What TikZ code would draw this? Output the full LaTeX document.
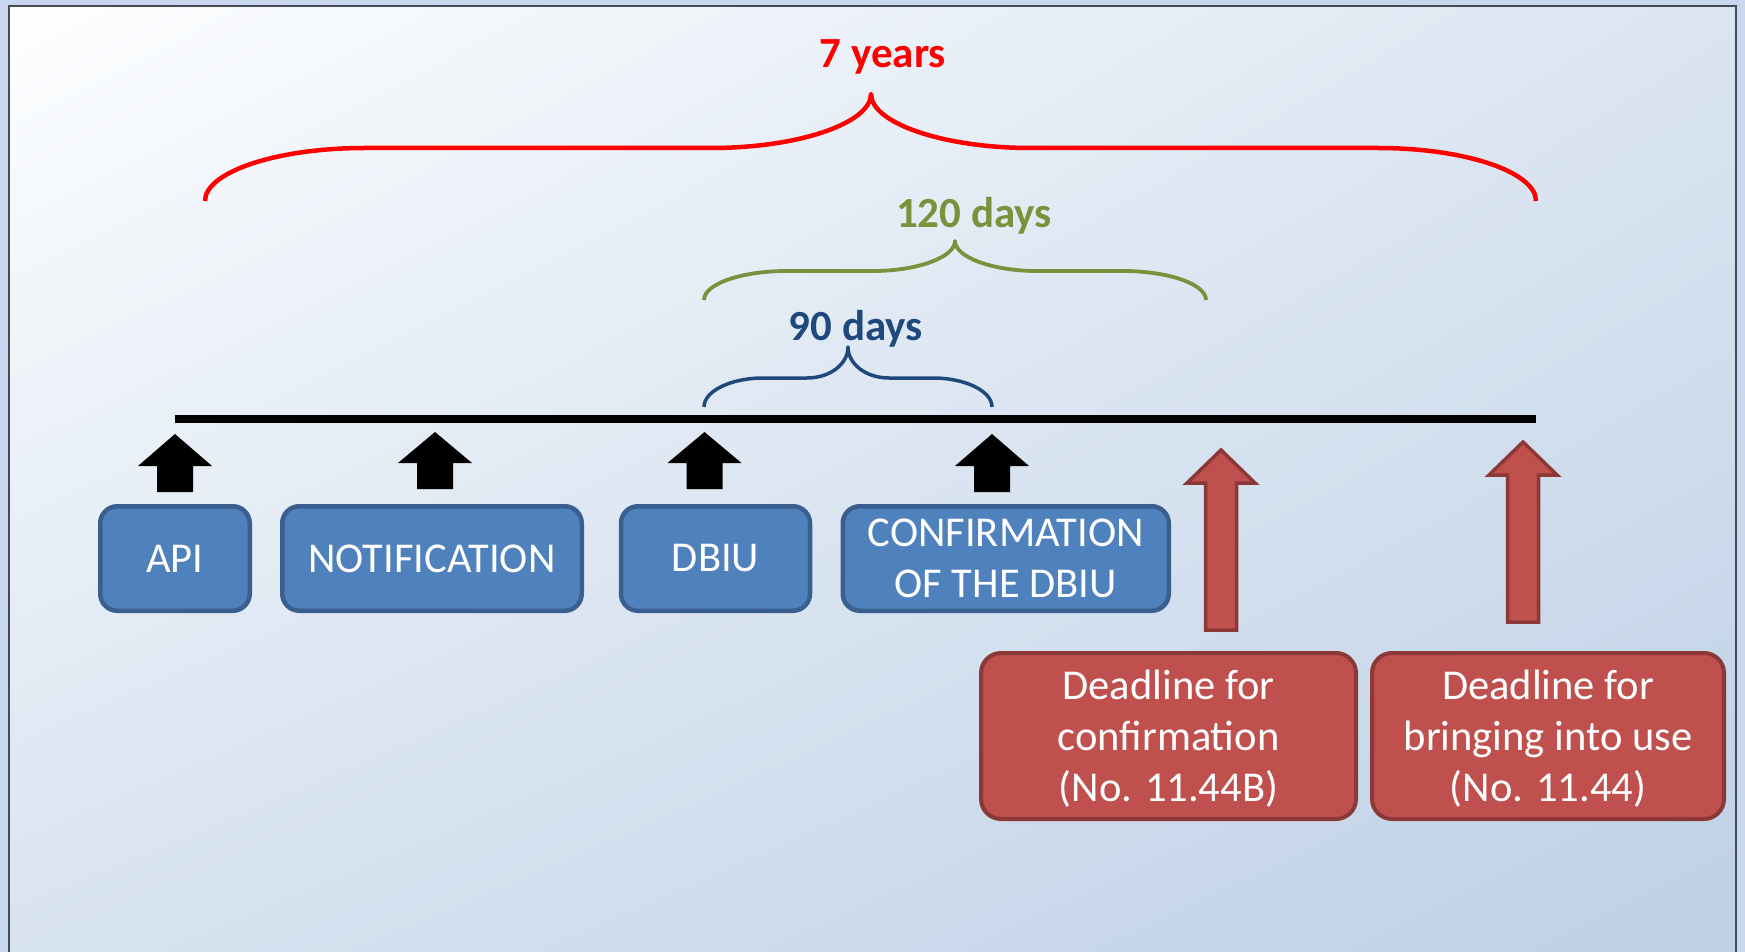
\documentclass[tikz,border=0pt]{standalone}
\usepackage{fontspec}
\setmainfont{Carlito}
\usetikzlibrary{shadings}
\definecolor{ored}{HTML}{FF0000}
\definecolor{ogreen}{HTML}{77933C}
\definecolor{oblue}{HTML}{1F497D}
\definecolor{boxblue}{HTML}{4F81BD}
\definecolor{boxblueline}{HTML}{3A5F8F}
\definecolor{boxred}{HTML}{C0504D}
\definecolor{boxredline}{HTML}{8C3836}
\definecolor{framegray}{HTML}{454A55}
\definecolor{outerbg}{HTML}{C8D6EE}
\definecolor{bgul}{HTML}{FDFEFF}
\definecolor{bgur}{HTML}{DBE5F1}
\definecolor{bgll}{HTML}{D8E3F0}
\definecolor{bglr}{HTML}{BDD0E6}
\newcommand\blockup[6]{(#1,#2) -- ({#1+#5},#3) -- ({#1+#6},#3) -- ({#1+#6},#4) -- ({#1-#6},#4) -- ({#1-#6},#3) -- ({#1-#5},#3) -- cycle}
\begin{document}
\begin{tikzpicture}[x=1pt,y=-1pt,
  boxtext/.style={text=white, font=\fontsize{42.5}{51}\selectfont, align=center, inner sep=0pt},
  bluebox/.style={boxtext, draw=boxblueline, fill=boxblue, line width=4.5pt, rounded corners=17pt, minimum height=104.5pt},
  redbox/.style={boxtext, draw=boxredline, fill=boxred, line width=4pt, rounded corners=20pt, minimum height=166pt, text depth=0pt},
  lbl/.style={font=\fontsize{43}{50}\selectfont\bfseries, anchor=base, inner sep=0pt},
  brace/.style={line join=round},
  blackarrow/.style={fill=black},
  redarrow/.style={fill=boxred, draw=boxredline, line width=3.5pt, line join=miter}
]
\clip (0,0) rectangle (1745,952);
% background
\fill[outerbg] (0,0) rectangle (1745,952);
\shade[upper left=bgul, upper right=bgur, lower left=bgll, lower right=bglr] (9,6) rectangle (1736,960);
\draw[framegray, line width=2.5pt] (9,970) -- (9,6) -- (1736,6) -- (1736,970);

% braces
\draw[ored, line width=4.5pt, brace] (205,201) .. controls (205,172) and (277,148) .. (364,148) -- (711,148) .. controls (799,148) and (871,123) .. (871,94) .. controls (871,123) and (943,148) .. (1031,148) -- (1378,148) .. controls (1465,148) and (1536,172) .. (1536,201);
\draw[ogreen, line width=3.8pt, brace] (704,300) .. controls (704,284) and (741,271) .. (787,271) -- (873,271) .. controls (918,271) and (955,257) .. (955,241) .. controls (955,257) and (992,271) .. (1037,271) -- (1123,271) .. controls (1168,271) and (1206,284) .. (1206,300);
\draw[oblue, line width=3.5pt, brace] (704,407) .. controls (704,391) and (731,378) .. (763,378) -- (807,378) .. controls (830,378) and (848,364) .. (848,347) .. controls (848,364) and (866,378) .. (889,378) -- (933,378) .. controls (965,378) and (992,391) .. (992,407);

% labels
\node[lbl, text=ored] (seven) at (883,68) {7 years};
\node[lbl, text=ogreen] (onetwenty) at (974,227) {120 days};
\node[lbl, text=oblue] (ninety) at (856,340) {90 days};

% timeline
\coordinate (tstart) at (175,419);
\coordinate (tend) at (1536,419);
\draw[line width=8pt] (tstart) -- (tend);

% black block arrows
\fill[blackarrow] \blockup{175}{434}{466}{492}{37}{18};
\fill[blackarrow] \blockup{435}{432}{463}{489}{37}{18};
\fill[blackarrow] \blockup{704.5}{432}{463}{489}{37}{18};
\fill[blackarrow] \blockup{992}{434}{466}{492}{37}{18};

% red block arrows
\draw[redarrow] \blockup{1221}{450}{483}{630}{34}{15.5};
\draw[redarrow] \blockup{1523}{442}{475}{622}{34}{15.5};

% blue boxes
\node[bluebox, minimum width=149.5pt] (api) at (175,558.5) {API};
\node[bluebox, minimum width=299.5pt] (notif) at (432,558.5) {NOTIFICATION};
\node[bluebox, minimum width=189pt] (dbiu) at (715.5,558.5) {DBIU};
\node[bluebox, minimum width=326pt] (conf) at (1005.75,558.5) {CONFIRMATION\\OF THE DBIU};

% red boxes
\node[redbox, minimum width=375pt] (dlconf) at (1168.5,736) {Deadline for\\confirmation\\(No. 11.44B)};
\node[redbox, minimum width=352pt] (dlbiu) at (1548,736) {Deadline for\\bringing into use\\(No. 11.44)};
\end{tikzpicture}
\end{document}
